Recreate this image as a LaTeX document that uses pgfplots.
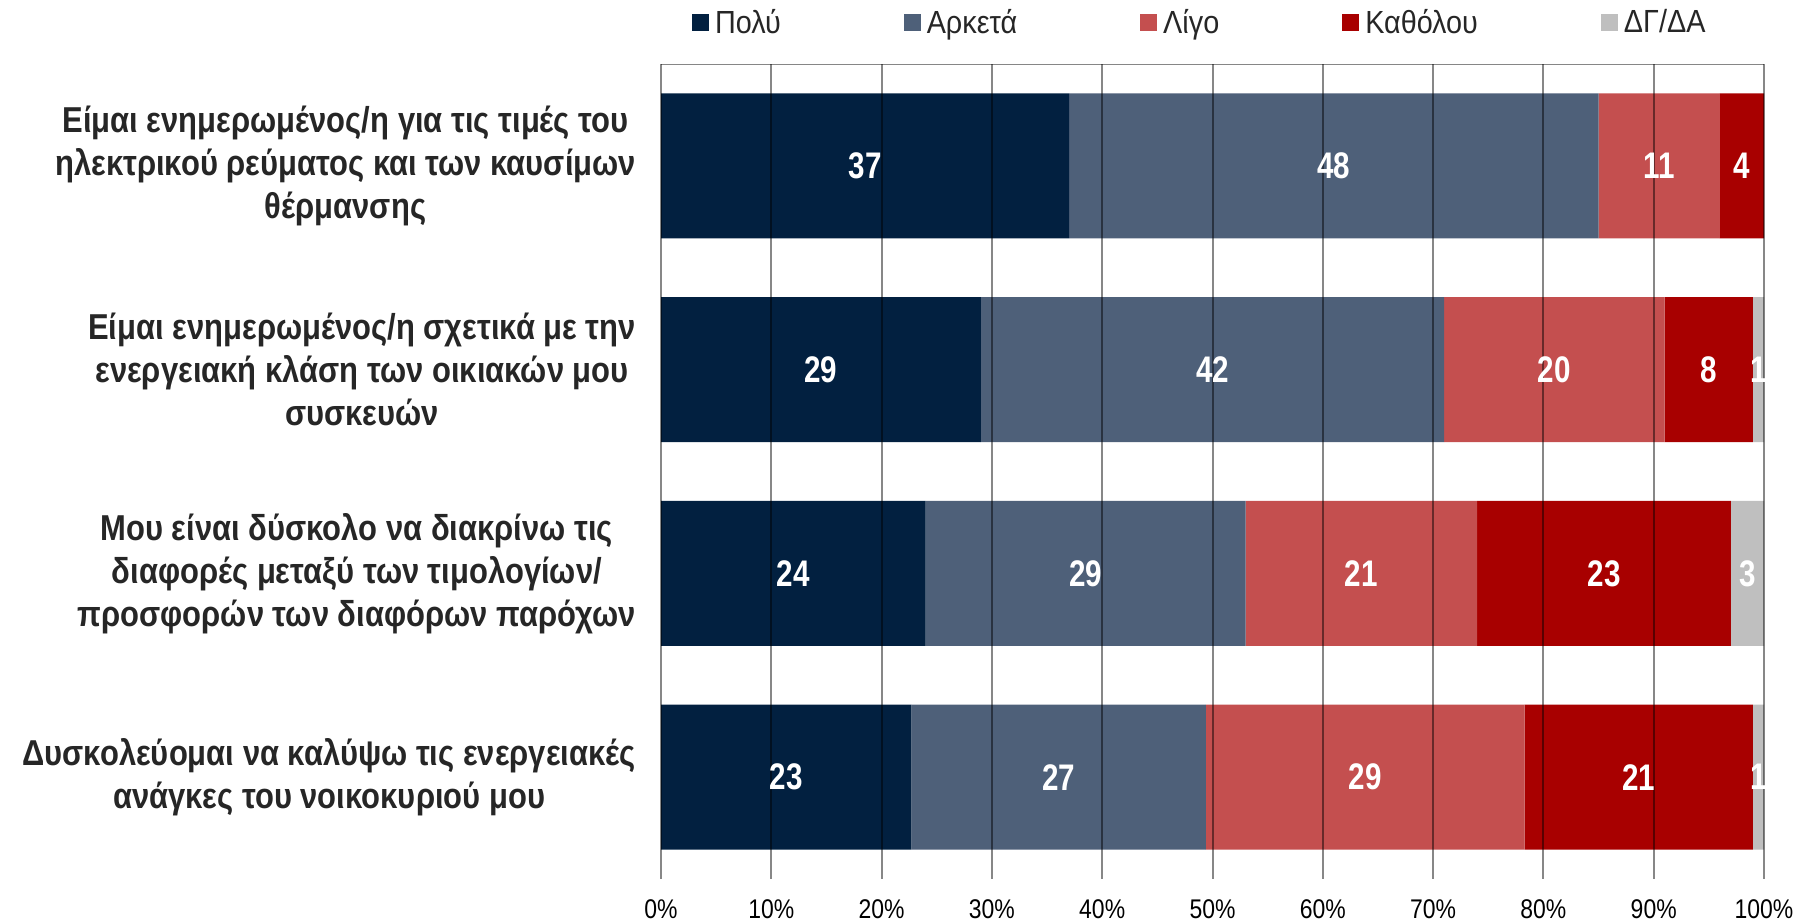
\documentclass[border=0pt]{standalone}
\usepackage{fontspec}
\setmainfont{Liberation Sans}[FakeStretch=0.8]
\newfontfamily\catfont{Liberation Sans}[FakeStretch=0.86]
\newfontfamily\legfont{Liberation Sans}[FakeStretch=0.9]
\newfontfamily\tickfont{Liberation Sans}[FakeStretch=0.85]
\usepackage{pgfplots}
\pgfplotsset{compat=1.18}
\definecolor{cPolu}{HTML}{022040}
\definecolor{cArketa}{HTML}{4E6079}
\definecolor{cLigo}{HTML}{C44F4F}
\definecolor{cKatholou}{HTML}{A80000}
\definecolor{cDG}{HTML}{BFBFBF}
\definecolor{cGrid}{HTML}{868686}
\definecolor{cText}{HTML}{262626}
\begin{document}
\begin{tikzpicture}
\useasboundingbox (0,0) rectangle (1796bp,924bp);
\begin{axis}[
  at={(661bp,45bp)}, anchor=south west,
  width=1103bp, height=815bp, scale only axis,
  xbar stacked, bar width=145bp,
  xmin=0, xmax=100, ymin=0.5, ymax=4.5, y dir=reverse,
  ytick={1,2,3,4},
  yticklabels={
    {Είμαι ενημερωμένος/η για τις τιμές του\\ηλεκτρικού ρεύματος και των καυσίμων\\θέρμανσης},
    {Είμαι ενημερωμένος/η σχετικά με την\\ενεργειακή κλάση των οικιακών μου\\συσκευών},
    {Μου είναι δύσκολο να διακρίνω τις\\διαφορές μεταξύ των τιμολογίων/\\προσφορών των διαφόρων παρόχων},
    {Δυσκολεύομαι να καλύψω τις ενεργειακές\\ανάγκες του νοικοκυριού μου}},
  yticklabel style={font=\catfont\fontsize{36bp}{43bp}\selectfont\bfseries, text=cText, align=center, anchor=east, inner sep=0pt, xshift=-25bp},
  xtick={0,10,...,100},
  xticklabels={0\%,10\%,20\%,30\%,40\%,50\%,60\%,70\%,80\%,90\%,100\%},
  xticklabel style={font=\tickfont\fontsize{27bp}{32bp}\selectfont, text=black, anchor=north, inner sep=0pt, yshift=-20bp},
  axis line style={draw=none},
  major tick length=0pt,
  xmajorgrids, grid style={black, opacity=0.47, line width=2bp},
  axis on top,
  legend columns=5,
  legend style={at={(axis description cs:0.028,1.0515)}, anchor=west, draw=none, fill=none, inner sep=0pt,
    font=\legfont\fontsize{32bp}{36bp}\selectfont, text=cText,
    /tikz/every even column/.append style={column sep=121bp},
    /tikz/every odd column/.append style={column sep=4bp}},
  legend image code/.code={\fill[#1] (0bp,-8.5bp) rectangle (17bp,8.5bp);},
]
\addplot[fill=cPolu, draw=none] coordinates {(37,1) (29,2) (24,3) (22.7,4)};
\addplot[fill=cArketa, draw=none] coordinates {(48,1) (42,2) (29,3) (26.7,4)};
\addplot[fill=cLigo, draw=none] coordinates {(11,1) (20,2) (21,3) (28.9,4)};
\addplot[fill=cKatholou, draw=none] coordinates {(4,1) (8,2) (23,3) (20.7,4)};
\addplot[fill=cDG, draw=none] coordinates {(0,1) (1,2) (3,3) (1.0,4)};
\legend{Πολύ,Αρκετά,Λίγο,Καθόλου,ΔΓ/ΔΑ}
\draw[cGrid, line width=2bp] (axis cs:0,0.5) -- (axis cs:100,0.5);
\pgfplotsinvokeforeach{0,10,...,100}{\draw[cGrid, line width=2bp] (axis cs:#1,0.5) -- ++(0,8bp);}
\end{axis}
\begin{axis}[
  at={(661bp,45bp)}, anchor=south west,
  width=1103bp, height=815bp, scale only axis,
  xmin=0, xmax=100, ymin=0.5, ymax=4.5, y dir=reverse,
  hide axis, clip=false,
]
\addplot[draw=none, mark=none, nodes near coords, point meta=explicit symbolic,
  every node near coord/.append style={anchor=center, text=white, inner sep=0pt,
    font=\fontsize{37bp}{40bp}\selectfont\bfseries}]
  table[meta=lab] {
x y lab
18.5 1 37
61 1 48
90.5 1 11
98 1 4
14.5 2 29
50 2 42
81 2 20
95 2 8
99.5 2 1
12 3 24
38.5 3 29
63.5 3 21
85.5 3 23
98.5 3 3
11.35 4 23
36.05 4 27
63.85 4 29
88.65 4 21
99.5 4 1
};
\end{axis}
\end{tikzpicture}
\end{document}
